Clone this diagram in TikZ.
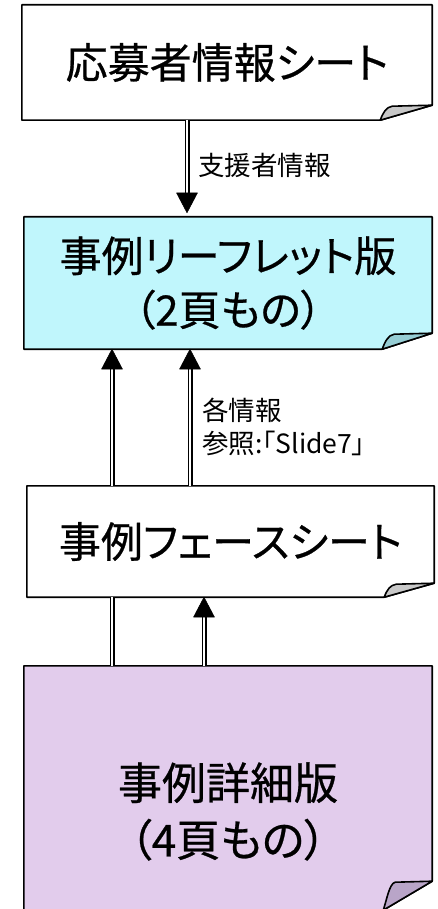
\documentclass[tikz,border=0pt]{standalone}
\usepackage{fontspec}
\newfontfamily\jp[RawFeature=+palt]{Noto Sans CJK JP}
\newfontfamily\jpb[RawFeature=+palt, FakeBold=0.6]{Noto Sans CJK JP}
\usetikzlibrary{backgrounds,calc}
\definecolor{cyanfill}{RGB}{192,246,252}
\definecolor{cyanflap}{RGB}{150,205,212}
\definecolor{lilac}{RGB}{226,204,236}
\definecolor{lilacflap}{RGB}{185,165,200}
\definecolor{greyflap}{RGB}{200,200,200}
\tikzset{
  paper/.style={inner sep=0pt, align=center, text=black, font=\jpb\fontsize{42}{54}\selectfont},
  shaft/.style={draw=black, line width=1.3pt, double=white, double distance=2.4pt},
  tipfill/.style={fill=black, draw=black, line width=0.5pt, line join=round},
  lbl/.style={inner sep=0pt, align=left, text=black, font=\jp\fontsize{26.5}{32.5}\selectfont},
  outline/.style={line width=1.6pt, line join=round, draw=black}
}
\newcommand\paperbg[5]{%
  \begin{scope}[on background layer]
    \draw[outline, fill=#2] (#1.north west) -- (#1.north east) -- ($(#1.south east)+(0,-#5)$) -- ($(#1.south east)+(-#4,0)$) -- (#1.south west) -- cycle;
    \draw[outline, fill=#3] ($(#1.south east)+(-#4,0)$) .. controls +(3,-8) and +(-6,1) .. ($(#1.south east)+(-#4+12,-#5+1)$) -- ($(#1.south east)+(0,-#5)$) -- cycle;
  \end{scope}}
% arrow heads: tip at #1, base 20 below (up) or 20 above (down)
\newcommand\uptip[1]{\filldraw[tipfill] (#1) -- ++(-10.5,20) -- ++(21,0) -- cycle;}
\newcommand\downtip[1]{\filldraw[tipfill] (#1) -- ++(-10.5,-20) -- ++(21,0) -- cycle;}
\begin{document}
\begin{tikzpicture}[x=1pt,y=-1pt]
\useasboundingbox (0,0) rectangle (437,909);
\node[paper, minimum width=410pt, minimum height=115pt] (b1) at (227,62.5) {応募者情報シート};
\node[paper, minimum width=408pt, minimum height=132pt] (b2) at (228,283) {事例リーフレット版\\（2頁もの）};
\node[paper, minimum width=407pt, minimum height=111pt] (b3) at (230.5,541.5) {事例フェースシート};
\node[paper, minimum width=408pt, minimum height=244pt] (b4) at (228,788) {};
\node[paper, font=\jpb\fontsize{44}{57}\selectfont] (b4t) at (228,811.5) {事例詳細版\\（4頁もの）};
\paperbg{b1}{white}{greyflap}{52}{15}
\paperbg{b2}{cyanfill}{cyanflap}{50}{16}
\paperbg{b3}{white}{greyflap}{50}{14}
\paperbg{b4}{lilac}{lilacflap}{49}{29}
% 応募者情報シート -> 事例リーフレット版
\draw[shaft, shorten >=22pt] (b1.south -| 187,0) -- (b2.north -| 187,0);
\downtip{$(b2.north -| 187,0)+(0,-4)$}
\node[lbl, anchor=west] (l1) at (198,165) {支援者情報};
% 事例詳細版 -> 事例リーフレット版 (passing behind 事例フェースシート)
\draw[shaft] (b4.north -| 112,0) -- (b3.south -| 112,0);
\draw[shaft, shorten >=18pt] (b3.north -| 112,0) -- (b2.south -| 112,0);
\uptip{b2.south -| 112,0}
% 事例フェースシート -> 事例リーフレット版
\draw[shaft, shorten >=18pt] (b3.north -| 190,0) -- (b2.south -| 190,0);
\uptip{b2.south -| 190,0}
\node[lbl, anchor=west] (l2) at (202,427) {各情報\\参照:「Slide7」};
% 事例詳細版 -> 事例フェースシート
\draw[shaft, shorten >=18pt] (b4.north -| 204,0) -- (b3.south -| 204,0);
\uptip{b3.south -| 204,0}
\end{tikzpicture}
\end{document}
